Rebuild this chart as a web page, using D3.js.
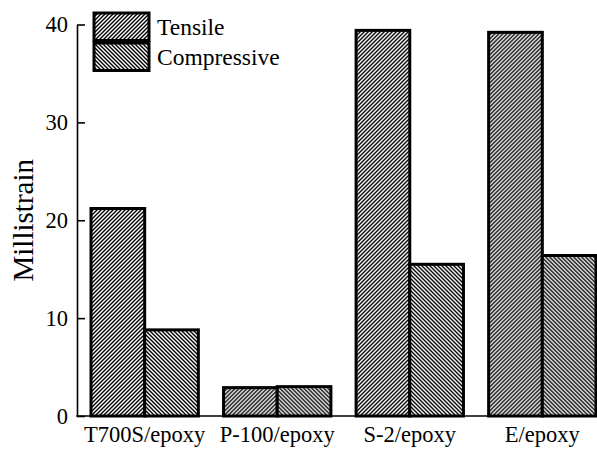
<!DOCTYPE html>
<html>
<head>
<meta charset="utf-8">
<script src="https://cdn.jsdelivr.net/npm/d3@7"></script>
<style>
  html, body { margin: 0; padding: 0; background: #fff; }
  svg text { font-family: "Liberation Serif", "Times New Roman", serif; fill: #000; }
</style>
</head>
<body>
<svg id="chart" width="597" height="450"></svg>
<script>
// Failure strain of fibre/epoxy composites
const categories = ["T700S/epoxy", "P-100/epoxy", "S-2/epoxy", "E/epoxy"];
const seriesNames = ["Tensile", "Compressive"];
const tensile = [21.2, 2.9, 39.4, 39.2];
const compressive = [8.8, 3.0, 15.5, 16.4];
const yTicks = [0, 10, 20, 30, 40];
const yLabel = "Millistrain";

const svg = d3.select("#chart");
const W = 597, H = 450;
const axisX = 77, plotTop = 24.5, plotBottom = 416;

const x = d3.scaleBand().domain(categories).range([91, 596]).paddingInner(0.19).paddingOuter(0);
const sub = d3.scaleBand().domain(seriesNames).range([0, x.bandwidth()]).padding(0);
const y = d3.scaleLinear().domain([0, 40]).range([plotBottom, plotTop]);

// hatch fills: "/" for tensile, "\" for compressive
const defs = svg.append("defs");
function hatch(id, forward) {
  const p = defs.append("pattern").attr("id", id)
    .attr("patternUnits", "userSpaceOnUse").attr("width", 4).attr("height", 4);
  p.append("rect").attr("width", 4).attr("height", 4).attr("fill", "#fff");
  p.append("path")
    .attr("d", forward ? "M-1,1 L1,-1 M0,4 L4,0 M3,5 L5,3" : "M-1,3 L1,5 M0,0 L4,4 M3,-1 L5,1")
    .attr("stroke", "#000").attr("stroke-width", 1.4);
}
hatch("hatch-t", true);
hatch("hatch-c", false);
const fills = { Tensile: "url(#hatch-t)", Compressive: "url(#hatch-c)" };

const rows = categories.map((c, i) => ({ cat: c, values: [
  { key: "Tensile", v: tensile[i] },
  { key: "Compressive", v: compressive[i] }
]}));

// bars
const groups = svg.append("g").selectAll("g").data(rows).join("g")
  .attr("transform", d => `translate(${x(d.cat)},0)`);
groups.selectAll("rect").data(d => d.values).join("rect")
  .attr("x", d => sub(d.key))
  .attr("y", d => y(d.v))
  .attr("width", sub.bandwidth())
  .attr("height", d => y(0) - y(d.v))
  .attr("fill", d => fills[d.key])
  .attr("stroke", "#000").attr("stroke-width", 3);

// y axis with inward ticks
const yAxis = svg.append("g").attr("transform", `translate(${axisX},0)`)
  .call(d3.axisLeft(y).tickValues(yTicks).tickSize(-8).tickSizeOuter(0).tickPadding(9));
yAxis.select(".domain").attr("stroke-width", 1.6);
yAxis.selectAll(".tick line").attr("stroke-width", 1.6);
yAxis.selectAll(".tick text").style("font-size", "22.5px");

// x baseline
svg.append("line").attr("x1", axisX - 0.8).attr("x2", W).attr("y1", y(0)).attr("y2", y(0))
  .attr("stroke", "#000").attr("stroke-width", 1.6);

// category labels
const xAxis = svg.append("g").attr("transform", `translate(0,${y(0)})`)
  .call(d3.axisBottom(x).tickSize(0).tickPadding(10));
xAxis.select(".domain").remove();
xAxis.selectAll(".tick text").style("font-size", "22.5px");

// y axis title
svg.append("text")
  .attr("transform", `translate(33,${(plotTop + plotBottom) / 2}) rotate(-90)`)
  .attr("text-anchor", "middle")
  .style("font-size", "29px")
  .text(yLabel);

// legend
const legend = svg.append("g").attr("transform", "translate(94,13)");
const li = legend.selectAll("g").data(seriesNames).join("g")
  .attr("transform", (d, i) => `translate(0,${i * 30})`);
li.append("rect").attr("width", 55).attr("height", 27.5)
  .attr("fill", d => fills[d]).attr("stroke", "#000").attr("stroke-width", 3);
li.append("text").attr("x", 63).attr("y", 22)
  .style("font-size", "23.5px").text(d => d);
</script>
</body>
</html>
